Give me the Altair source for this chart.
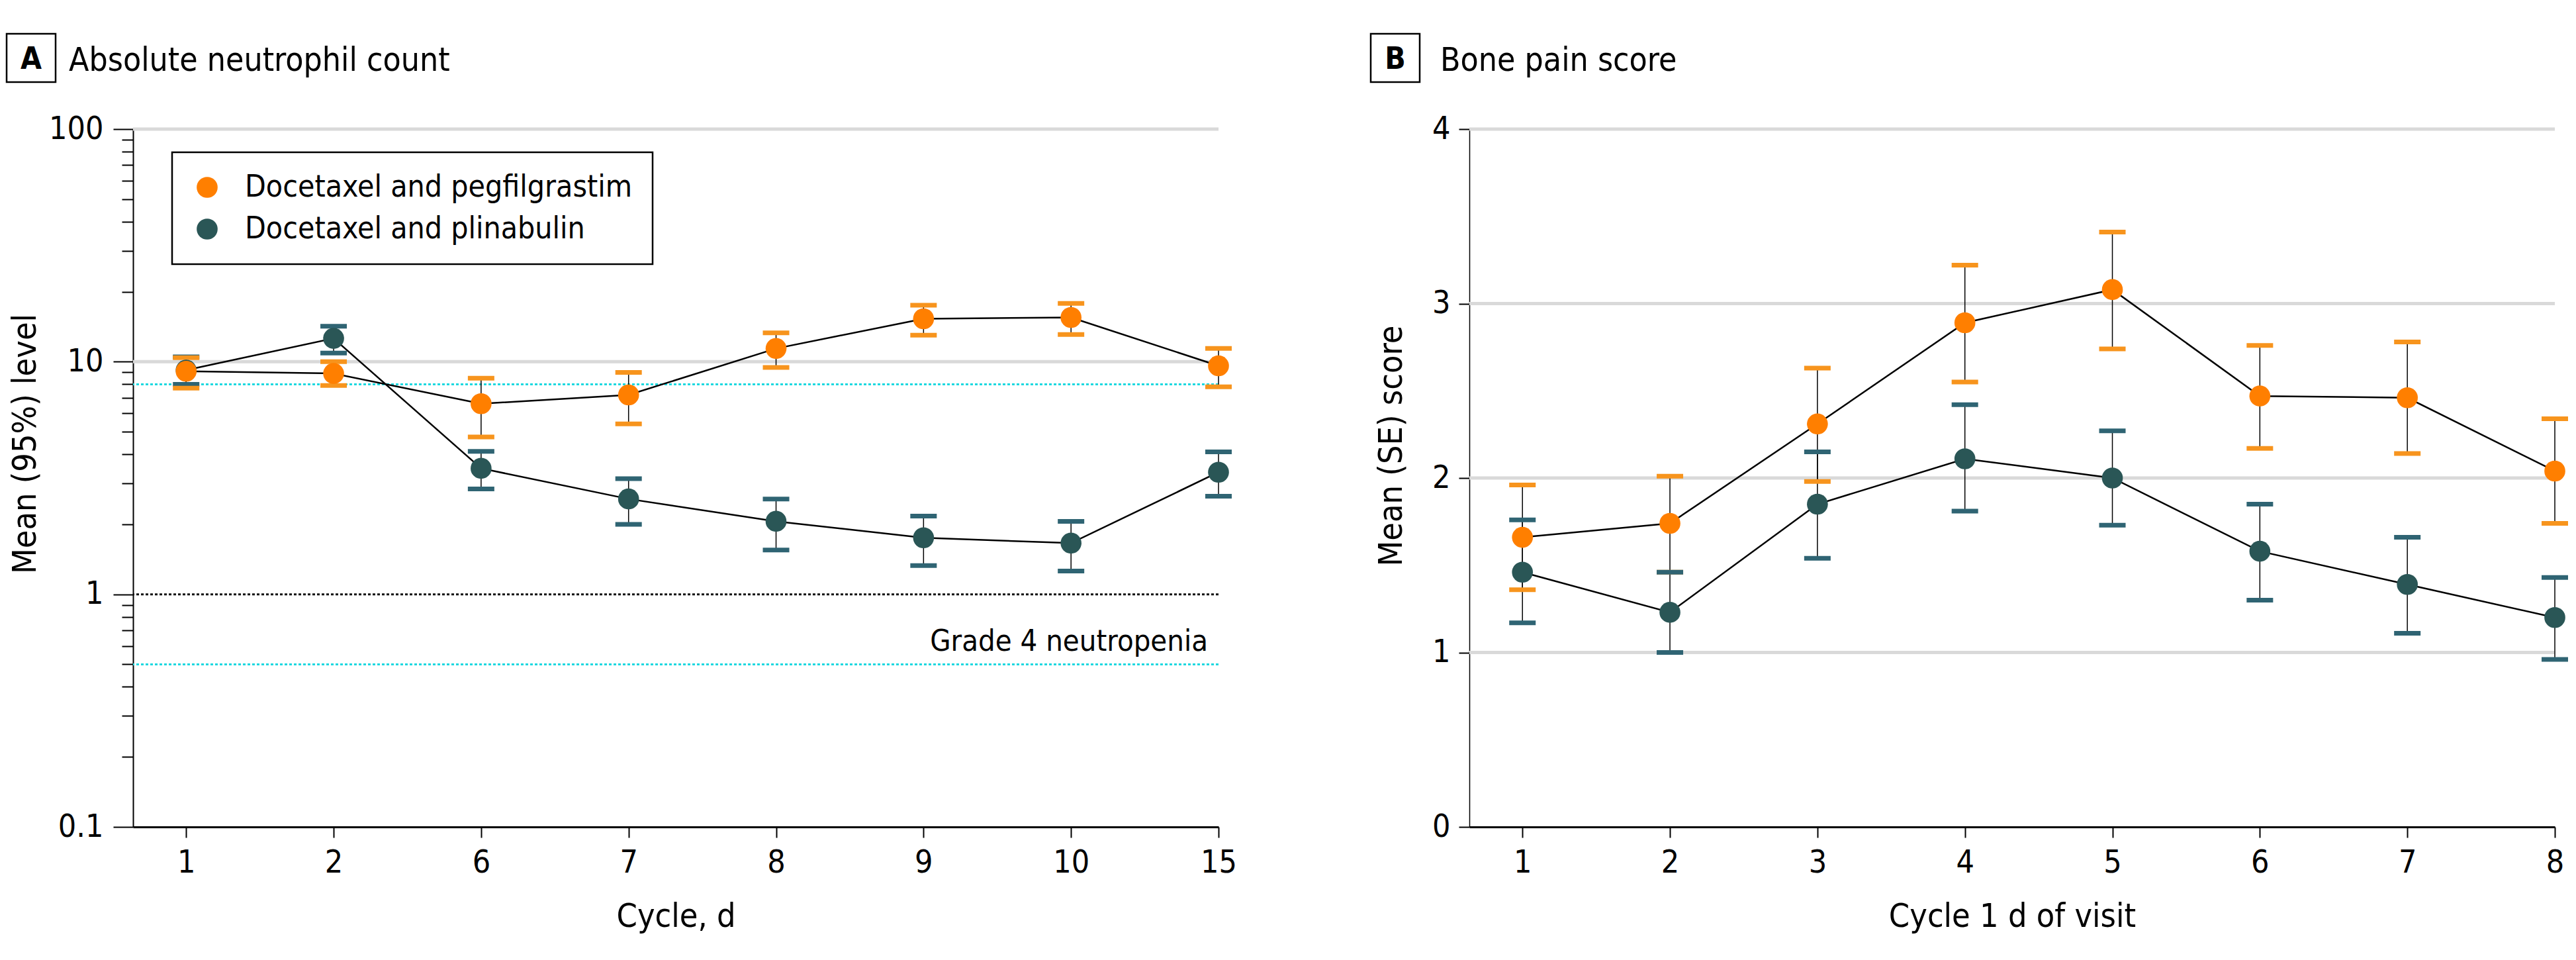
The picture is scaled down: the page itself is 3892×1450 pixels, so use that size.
import altair as alt
import pandas as pd

FONT = "DejaVu Sans Condensed, Liberation Sans Narrow, DejaVu Sans, sans-serif"

SERIES = ["Docetaxel and pegfilgrastim", "Docetaxel and plinabulin"]
POINT_COLORS = ["#FF7F00", "#2A5656"]
CAP_COLORS = ["#F7941D", "#2F6473"]

# Panel A: absolute neutrophil count (log scale)
A_DAYS = ["1", "2", "6", "7", "8", "9", "10", "15"]
A_PEG_MEAN = [9.1, 8.9, 6.6, 7.2, 11.4, 15.3, 15.5, 9.6]
A_PEG_LO = [7.7, 7.9, 4.75, 5.4, 9.45, 13.0, 13.1, 7.8]
A_PEG_HI = [10.4, 10.0, 8.5, 9.0, 13.3, 17.5, 17.8, 11.4]
A_PLI_MEAN = [9.2, 12.6, 3.48, 2.57, 2.06, 1.75, 1.66, 3.35]
A_PLI_LO = [8.0, 10.9, 2.84, 2.0, 1.55, 1.33, 1.26, 2.64]
A_PLI_HI = [10.5, 14.2, 4.12, 3.14, 2.57, 2.17, 2.06, 4.1]
A_MAJOR = [0.1, 1, 10, 100]
A_MINOR = [0.2, 0.3, 0.4, 0.5, 0.6, 0.7, 0.8, 0.9,
           2, 3, 4, 5, 6, 7, 8, 9,
           20, 30, 40, 50, 60, 70, 80, 90]
A_GRID = [10, 100]
A_REF_VALUES = [8, 1, 0.5]
A_REF_COLORS = ["#1ED8E0", "#111111", "#1ED8E0"]
A_REF_LABEL = "Grade 4 neutropenia"

# Panel B: bone pain score
B_DAYS = ["1", "2", "3", "4", "5", "6", "7", "8"]
B_PEG_MEAN = [1.66, 1.74, 2.31, 2.89, 3.08, 2.47, 2.46, 2.04]
B_PEG_LO = [1.36, 1.46, 1.98, 2.55, 2.74, 2.17, 2.14, 1.74]
B_PEG_HI = [1.96, 2.01, 2.63, 3.22, 3.41, 2.76, 2.78, 2.34]
B_PLI_MEAN = [1.46, 1.23, 1.85, 2.11, 2.00, 1.58, 1.39, 1.20]
B_PLI_LO = [1.17, 1.00, 1.54, 1.81, 1.73, 1.30, 1.11, 0.96]
B_PLI_HI = [1.76, 1.46, 2.15, 2.42, 2.27, 1.85, 1.66, 1.43]
B_TICKS = [0, 1, 2, 3, 4]
B_GRID = [1, 2, 3, 4]

W, H = 1640, 1054


def long_df(days, peg, pli):
    rows = []
    # plinabulin first so pegfilgrastim is drawn on top
    for s_idx, (mean, lo, hi) in ((1, pli), (0, peg)):
        for d, m, l, h in zip(days, mean, lo, hi):
            rows.append({"day": d, "series": SERIES[s_idx], "mean": m,
                         "lo": l, "hi": h, "cap": CAP_COLORS[s_idx]})
    return pd.DataFrame(rows)


def x_axis(title):
    return alt.Axis(
        title=title, labelAngle=0, tickSize=16, tickWidth=2, tickColor="black",
        domainWidth=3, domainColor="black", labelFontSize=48, labelPadding=14,
        labelFont=FONT, labelColor="black", titleFont=FONT, titleFontSize=50,
        titleFontWeight="normal", titleColor="black",
        titleY=150, titleBaseline="alphabetic", grid=False)


def panel(df, days, y_scale, y_axis, x_title, grid_vals, letter, title,
          box_x, text_x, legend, extra=()):
    x_scale = alt.Scale(type="point", padding=0.18, align=1)
    xa = x_axis(x_title)

    def X():
        return alt.X("day:O", sort=days, scale=x_scale, axis=xa)

    def Y(field):
        return alt.Y(field, scale=y_scale, axis=y_axis)

    base = alt.Chart(df)
    grid = alt.Chart(pd.DataFrame({"v": grid_vals})).mark_rule(
        color="#D9D9D9", strokeWidth=5).encode(y=Y("v:Q"))
    lines = base.mark_line(color="black", strokeWidth=2.5).encode(
        x=X(), y=Y("mean:Q"), detail="series:N")
    err = base.mark_rule(color="black", strokeWidth=1.5).encode(
        x=X(), y=Y("lo:Q"), y2="hi:Q")
    cap_lo = base.mark_rule(strokeWidth=7, xOffset=-20, x2Offset=20).encode(
        x=X(), x2="day:O", y=Y("lo:Q"), stroke=alt.Stroke("cap:N", scale=None))
    cap_hi = base.mark_rule(strokeWidth=7, xOffset=-20, x2Offset=20).encode(
        x=X(), x2="day:O", y=Y("hi:Q"), stroke=alt.Stroke("cap:N", scale=None))
    points = base.mark_circle(size=1000, opacity=1).encode(
        x=X(), y=Y("mean:Q"),
        color=alt.Color("series:N", scale=alt.Scale(domain=SERIES, range=POINT_COLORS),
                        legend=legend))

    extra_layers = [e(X, Y) for e in extra]

    tdf = pd.DataFrame({"letter": [letter], "title": [title]})
    tbase = alt.Chart(tdf)
    box = tbase.mark_rect(fill="white", stroke="black", strokeWidth=2.5).encode(
        x=alt.value(box_x), x2=alt.value(box_x + 74),
        y=alt.value(-144), y2=alt.value(-71))
    let = tbase.mark_text(font=FONT, fontSize=46, fontWeight="bold",
                          align="center", baseline="alphabetic").encode(
        x=alt.value(box_x + 37), y=alt.value(-91), text="letter:N")
    ttl = tbase.mark_text(font=FONT, fontSize=49.5, align="left",
                          baseline="alphabetic").encode(
        x=alt.value(text_x), y=alt.value(-88), text="title:N")

    layers = [grid, *extra_layers, lines, err, cap_lo, cap_hi, points, box, let, ttl]
    return alt.layer(*layers).properties(width=W, height=H)


# ---------- Panel A ----------
dfA = long_df(A_DAYS, (A_PEG_MEAN, A_PEG_LO, A_PEG_HI), (A_PLI_MEAN, A_PLI_LO, A_PLI_HI))
ysA = alt.Scale(type="log", domain=[0.1, 100], nice=False)
major_test = "indexof([0.1, 1, 10, 100], datum.value) >= 0"
y_axis_A = alt.Axis(
    title="Mean (95%) level", values=sorted(A_MAJOR + A_MINOR),
    labelExpr=f"{major_test} ? format(datum.value, '~g') : ''",
    tickSize={"condition": {"test": major_test, "value": 30}, "value": 17},
    tickWidth=2, tickColor="black", domainWidth=2, domainColor="black",
    labelFontSize=48, labelFont=FONT, labelColor="black", labelPadding=15, grid=False,
    titleFont=FONT, titleFontSize=50, titleFontWeight="normal", titleColor="black",
    titleAngle=-90, titleX=-148, titleY=475, titleAlign="center",
    titleBaseline="alphabetic")


def refA(X, Y):
    return alt.Chart(pd.DataFrame({"v": A_REF_VALUES, "c": A_REF_COLORS})).mark_rule(
        strokeWidth=3, strokeDash=[4, 3]).encode(
        y=Y("v:Q"), stroke=alt.Stroke("c:N", scale=None))


def refA_text(X, Y):
    return alt.Chart(pd.DataFrame({"day": [A_DAYS[-1]], "v": [A_REF_VALUES[-1]],
                                   "t": [A_REF_LABEL]})).mark_text(
        font=FONT, fontSize=45, align="right", baseline="alphabetic",
        dx=-16, dy=-20).encode(x=X(), y=Y("v:Q"), text="t:N")


legendA = alt.Legend(
    title=None, orient="none", legendX=59, legendY=35, direction="vertical",
    symbolType="circle", symbolSize=1000, symbolStrokeWidth=0, symbolOpacity=1,
    labelFont=FONT, labelFontSize=46, labelOffset=34, rowPadding=17, labelLimit=2000,
    padding=30, strokeColor="black", fillColor="white")

chartA = panel(dfA, A_DAYS, ysA, y_axis_A, "Cycle, d", A_GRID, "A",
               "Absolute neutrophil count", -191, -97, legendA,
               extra=(refA, refA_text))

# ---------- Panel B ----------
dfB = long_df(B_DAYS, (B_PEG_MEAN, B_PEG_LO, B_PEG_HI), (B_PLI_MEAN, B_PLI_LO, B_PLI_HI))
ysB = alt.Scale(domain=[0, 4], nice=False)
y_axis_B = alt.Axis(
    title="Mean (SE) score", values=B_TICKS, format="d",
    tickSize=16, tickWidth=2, tickColor="black", domainWidth=1.5, domainColor="black",
    labelFontSize=48, labelFont=FONT, labelColor="black", labelPadding=13, grid=False,
    titleFont=FONT, titleFontSize=50, titleFontWeight="normal", titleColor="black",
    titleAngle=-90, titleX=-103, titleY=478, titleAlign="center",
    titleBaseline="alphabetic")

chartB = panel(dfB, B_DAYS, ysB, y_axis_B, "Cycle 1 d of visit", B_GRID, "B",
               "Bone pain score", -149, -44, None)

chart = alt.hconcat(chartA, chartB, spacing=379, bounds="flush").resolve_scale(
    x="independent", y="independent", color="independent"
).properties(
    padding={"top": 41, "left": 0, "right": 0, "bottom": 10}
).configure(font=FONT).configure_view(stroke=None).configure_legend(strokeWidth=2.5)

chart.save("out.html", embed_options={"renderer": "svg", "actions": False})
